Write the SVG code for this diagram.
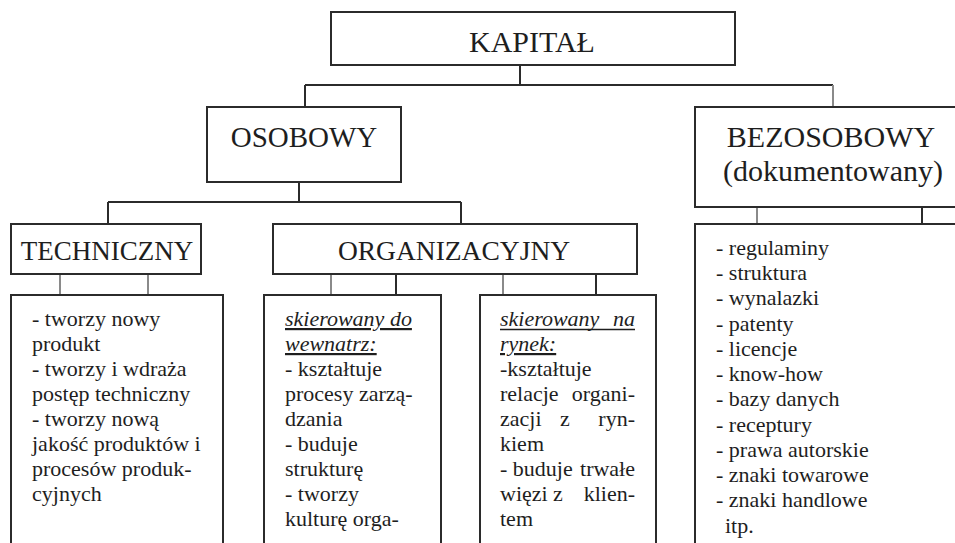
<svg xmlns="http://www.w3.org/2000/svg" width="955" height="543" viewBox="0 0 955 543">
  <style>
    text { font-family: "Liberation Serif", "Times New Roman", serif; fill: #1e1e1e; }
    .box { fill: #ffffff; stroke: #2b2b2b; stroke-width: 2; }
    .head { text-anchor: middle; }
    .body { font-size: 22px; }
    .hdr { font-style: italic; text-decoration: underline; }
    .ital { font-style: italic; }
    .end { text-anchor: end; }
    .mid { text-anchor: middle; }
    .link { stroke: #2b2b2b; stroke-width: 2; fill: none; }
    .link.soft { stroke: #8a8a8a; }
    .uline { stroke: #1e1e1e; stroke-width: 1.3; }
  </style>
  <rect width="955" height="543" fill="#ffffff"/>

  <!-- connectors -->
  <g id="connectors">
    <path class="link" d="M520 65 V85 M305 85 H833 M305 85 V107"/>
    <path class="link soft" d="M833 85 V107"/>
    <path class="link" d="M299 182 V202 M108 202 H461 M108 202 V224 M461 202 V224"/>
    <path class="link soft" d="M60 274 V295 M148 274 V295"/>
    <path class="link soft" d="M331 274 V295 M503 274 V295"/>
    <path class="link" d="M396 274 V295 M596 274 V295"/>
    <path class="link soft" d="M757 207 V224"/>
    <path class="link" d="M922 207 V224"/>
  </g>

  <g id="kapital">
    <rect class="box" x="331" y="12" width="404" height="53"/>
    <text class="head" x="532" y="52" font-size="30">KAPITAŁ</text>
  </g>

  <g id="osobowy">
    <rect class="box" x="207" y="107" width="194" height="75"/>
    <text class="head" x="304" y="147" font-size="29">OSOBOWY</text>
  </g>

  <g id="bezosobowy">
    <rect class="box" x="695" y="107" width="270" height="100"/>
    <text class="head" x="831" y="147" font-size="30">BEZOSOBOWY</text>
    <text class="head" x="833" y="181" font-size="30">(dokumentowany)</text>
  </g>

  <g id="techniczny">
    <rect class="box" x="11" y="224" width="190" height="50"/>
    <text class="head" x="107" y="260" font-size="27">TECHNICZNY</text>
  </g>

  <g id="organizacyjny">
    <rect class="box" x="273" y="224" width="364" height="50"/>
    <text class="head" x="454" y="260" font-size="27.5">ORGANIZACYJNY</text>
  </g>

  <g id="techniczny-opis">
    <rect class="box" x="11" y="295" width="212" height="270"/>
    <text class="body" x="32" y="326">- tworzy nowy</text>
    <text class="body" x="32" y="351">produkt</text>
    <text class="body" x="32" y="376">- tworzy i wdraża</text>
    <text class="body" x="32" y="401">postęp techniczny</text>
    <text class="body" x="32" y="426">- tworzy nową</text>
    <text class="body" x="32" y="451">jakość produktów i</text>
    <text class="body" x="32" y="476">procesów produk-</text>
    <text class="body" x="32" y="501">cyjnych</text>
  </g>

  <g id="wewnatrz">
    <rect class="box" x="264" y="295" width="177" height="270"/>
    <text class="body hdr" x="285" y="326">skierowany do</text>
    <text class="body hdr" x="285" y="351">wewnatrz:</text>
    <text class="body" x="285" y="376">- kształtuje</text>
    <text class="body" x="285" y="401">procesy zarzą-</text>
    <text class="body" x="285" y="426">dzania</text>
    <text class="body" x="285" y="451">- buduje</text>
    <text class="body" x="285" y="476">strukturę</text>
    <text class="body" x="285" y="501">- tworzy</text>
    <text class="body" x="285" y="526">kulturę orga-</text>
  </g>

  <g id="rynek">
    <rect class="box" x="480" y="295" width="176" height="270"/>
    <!-- justified heading: words pinned to both margins, one continuous underline -->
    <text class="body ital" x="500" y="326">skierowany</text>
    <text class="body ital end" x="635" y="326">na</text>
    <line class="uline" x1="500" y1="329.5" x2="635" y2="329.5"/>
    <text class="body hdr" x="500" y="351">rynek:</text>
    <text class="body" x="500" y="376">-kształtuje</text>
    <text class="body" x="500" y="401">relacje</text>
    <text class="body end" x="635" y="401">organi-</text>
    <text class="body" x="500" y="426">zacji</text>
    <text class="body mid" x="565" y="426">z</text>
    <text class="body end" x="635" y="426">ryn-</text>
    <text class="body" x="500" y="451">kiem</text>
    <text class="body" x="500" y="476">- buduje</text>
    <text class="body end" x="635" y="476">trwałe</text>
    <text class="body" x="500" y="501">więzi</text>
    <text class="body mid" x="558" y="501">z</text>
    <text class="body end" x="635" y="501">klien-</text>
    <text class="body" x="500" y="526">tem</text>
  </g>

  <g id="bezosobowy-opis">
    <rect class="box" x="695" y="224" width="270" height="340"/>
    <text class="body" x="716" y="255">- regulaminy</text>
    <text class="body" x="716" y="280">- struktura</text>
    <text class="body" x="716" y="305">- wynalazki</text>
    <text class="body" x="716" y="331">- patenty</text>
    <text class="body" x="716" y="356">- licencje</text>
    <text class="body" x="716" y="381">- know-how</text>
    <text class="body" x="716" y="406">- bazy danych</text>
    <text class="body" x="716" y="432">- receptury</text>
    <text class="body" x="716" y="457">- prawa autorskie</text>
    <text class="body" x="716" y="482">- znaki towarowe</text>
    <text class="body" x="716" y="507">- znaki handlowe</text>
    <text class="body" x="725" y="533">itp.</text>
  </g>
</svg>
